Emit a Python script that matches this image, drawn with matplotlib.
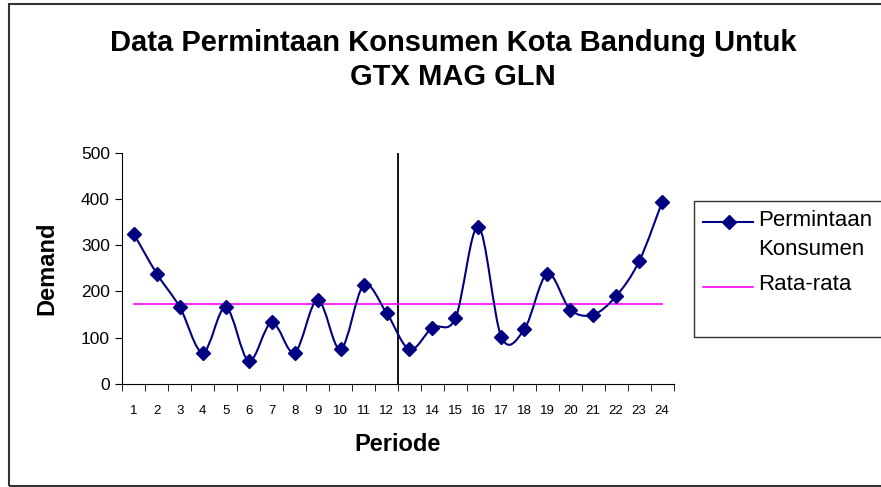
import numpy as np
import matplotlib.pyplot as plt
from matplotlib.path import Path
from matplotlib.patches import PathPatch, Rectangle
from matplotlib.lines import Line2D

plt.rcParams['font.family'] = ['Liberation Sans', 'DejaVu Sans']

# Data
periode = list(range(1, 25))
permintaan = [324, 238, 166, 68, 166, 50, 133, 68, 182, 75, 213, 154,
              75, 122, 142, 340, 102, 118, 238, 161, 150, 190, 265, 393]
rata_rata = [174] * 24
batas_periode = 12.5

navy = '#000080'
magenta = '#FF00FF'

W, H = 881, 487


def smooth_path(x, y):
    """Excel-style smoothed line: cubic Bezier through every point."""
    x = np.asarray(x, dtype=float)
    y = np.asarray(y, dtype=float)
    px = np.concatenate([[x[0]], x, [x[-1]]])
    py = np.concatenate([[y[0]], y, [y[-1]]])
    verts = [(x[0], y[0])]
    codes = [Path.MOVETO]
    for i in range(1, len(x)):
        p0 = np.array([px[i - 1], py[i - 1]])
        p1 = np.array([px[i], py[i]])
        p2 = np.array([px[i + 1], py[i + 1]])
        p3 = np.array([px[i + 2], py[i + 2]])
        c1 = p1 + (p2 - p0) / 6.0
        c2 = p2 - (p3 - p1) / 6.0
        verts += [tuple(c1), tuple(c2), tuple(p2)]
        codes += [Path.CURVE4] * 3
    return Path(verts, codes)


def fx(px):
    return px / W


def fy(py):
    return 1 - py / H


fig = plt.figure(figsize=(W / 100, H / 100), dpi=100)
ax = fig.add_axes([0.139, 0.2115, 0.6255, 0.4749])

# outer chart frame
fig.patches.append(Rectangle((fx(9), fy(486)), 1.0, 482 / H, transform=fig.transFigure,
                             fill=False, edgecolor='#333333', linewidth=1.5))

ax.add_patch(PathPatch(smooth_path(periode, permintaan), facecolor='none',
                       edgecolor=navy, linewidth=1.5, zorder=3))
ax.plot(periode, permintaan, linestyle='none', marker='D', markersize=7,
        color=navy, zorder=4)
ax.plot(periode, rata_rata, color=magenta, linewidth=1.2, zorder=2)
ax.axvline(batas_periode, color='black', linewidth=1.3, zorder=1)

ax.set_xlim(0.5, 24.5)
ax.set_ylim(0, 500)
ax.set_yticks(range(0, 501, 100))
ax.set_xticks(periode)
ax.set_xticklabels([str(p) for p in periode], fontsize=9.5)
ax.set_xticks(np.arange(0.5, 25, 1), minor=True)
ax.tick_params(axis='x', which='major', length=0, pad=15)
ax.tick_params(axis='x', which='minor', length=5, direction='out')
ax.tick_params(axis='y', length=5, direction='out', labelsize=12.5, pad=4)
for s in ['top', 'right']:
    ax.spines[s].set_visible(False)

ax.set_xlabel('Periode', fontsize=17, fontweight='bold')
ax.set_ylabel('Demand', fontsize=17, fontweight='bold')
ax.xaxis.set_label_coords(0.5, -0.212)
ax.yaxis.set_label_coords(-0.117, 0.5)

fig.text(0.514, fy(43), 'Data Permintaan Konsumen Kota Bandung Untuk',
         ha='center', va='center', fontsize=21, fontweight='bold')
fig.text(0.514, fy(77), 'GTX MAG GLN',
         ha='center', va='center', fontsize=21, fontweight='bold')

# legend box, drawn like the spreadsheet legend
fig.patches.append(Rectangle((fx(694), fy(337)), 1.0, 136 / H, transform=fig.transFigure,
                             fill=False, edgecolor='#333333', linewidth=1.0))
fig.add_artist(Line2D([fx(703), fx(753)], [fy(222), fy(222)], color=navy, linewidth=1.5))
fig.add_artist(Line2D([fx(729)], [fy(222)], color=navy, marker='D', markersize=7))
fig.add_artist(Line2D([fx(703), fx(753)], [fy(287), fy(287)], color=magenta, linewidth=1.2))
fig.text(fx(758), fy(220), 'Permintaan', ha='left', va='center', fontsize=16)
fig.text(fx(758), fy(250), 'Konsumen', ha='left', va='center', fontsize=16)
fig.text(fx(758), fy(285), 'Rata-rata', ha='left', va='center', fontsize=16)

fig.savefig('out.png', dpi=100)
